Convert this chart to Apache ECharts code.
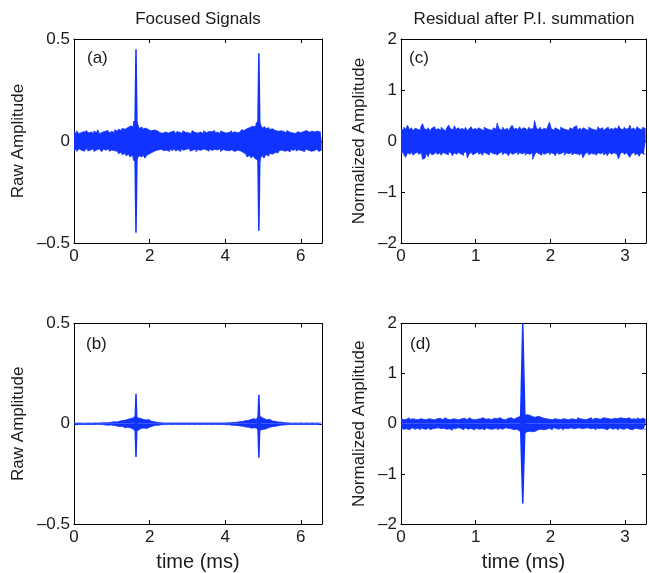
<!DOCTYPE html>
<html><head><meta charset="utf-8">
<script src="https://cdn.jsdelivr.net/npm/echarts@6/dist/echarts.min.js"></script>
<style>html,body{margin:0;padding:0;background:#fff}#c{width:649px;height:573px}</style>
</head><body><div id="c"></div>
<script>
// ---- data (envelopes of the dense signals) ----
const aStep = 0.05;   // sample spacing of panel (a),(b) envelopes, ms
const cStep = 0.025;  // sample spacing of panel (c),(d) envelopes, ms
const leftXMax = 6.56;
const rightXMax = 3.28;
const leftXTicks = [0, 2, 4, 6];
const rightXTicks = [0, 1, 2, 3];
const leftYTicks = [-0.5, 0, 0.5];
const rightYTicks = [-2, -1, 0, 1, 2];
const panelTags = ['(a)', '(b)', '(c)', '(d)'];
const colTitles = ['Focused Signals', 'Residual after P.I. summation'];

const aUpper = [0.045,0.038,0.050,0.036,0.042,0.047,0.035,0.052,0.040,0.044,
0.037,0.049,0.041,0.055,0.036,0.043,0.048,0.039,0.051,0.040,
0.046,0.042,0.055,0.048,0.058,0.052,0.062,0.057,0.066,0.060,
0.074,0.070,0.095,0.100,0.088,0.062,0.068,0.058,0.064,0.055,
0.060,0.050,0.054,0.046,0.050,0.041,0.048,0.038,0.044,0.052,
0.039,0.045,0.041,0.049,0.036,0.047,0.042,0.038,0.050,0.043,
0.040,0.046,0.037,0.051,0.042,0.039,0.048,0.044,0.036,0.050,
0.041,0.047,0.038,0.045,0.052,0.040,0.043,0.037,0.049,0.044,
0.039,0.046,0.042,0.050,0.038,0.045,0.041,0.048,0.044,0.055,
0.052,0.060,0.058,0.066,0.072,0.078,0.070,0.090,0.095,0.085,
0.064,0.070,0.060,0.066,0.056,0.060,0.052,0.055,0.048,0.050,
0.042,0.047,0.039,0.051,0.044,0.040,0.049,0.037,0.045,0.050,
0.041,0.046,0.038,0.052,0.043,0.040,0.048,0.044,0.037,0.049,0.042,0.045];
const aLower = [-0.048,-0.040,-0.052,-0.038,-0.045,-0.050,-0.041,-0.036,-0.049,-0.043,
-0.039,-0.051,-0.044,-0.038,-0.047,-0.053,-0.040,-0.045,-0.037,-0.050,
-0.044,-0.048,-0.056,-0.050,-0.062,-0.055,-0.068,-0.060,-0.072,-0.065,
-0.078,-0.070,-0.095,-0.098,-0.085,-0.072,-0.078,-0.066,-0.084,-0.070,
-0.062,-0.055,-0.050,-0.048,-0.044,-0.050,-0.041,-0.047,-0.039,-0.045,
-0.051,-0.040,-0.046,-0.038,-0.049,-0.043,-0.052,-0.039,-0.045,-0.041,
-0.048,-0.037,-0.050,-0.044,-0.040,-0.053,-0.042,-0.046,-0.039,-0.048,
-0.043,-0.050,-0.038,-0.046,-0.041,-0.049,-0.044,-0.037,-0.051,-0.042,
-0.046,-0.040,-0.048,-0.043,-0.039,-0.052,-0.045,-0.050,-0.048,-0.056,
-0.060,-0.064,-0.078,-0.070,-0.082,-0.074,-0.085,-0.092,-0.098,-0.088,
-0.070,-0.084,-0.066,-0.074,-0.060,-0.065,-0.056,-0.052,-0.058,-0.048,
-0.044,-0.050,-0.041,-0.047,-0.053,-0.040,-0.046,-0.038,-0.049,-0.043,
-0.047,-0.041,-0.052,-0.039,-0.045,-0.050,-0.042,-0.048,-0.040,-0.046,-0.051,-0.044];
const aSpikeT = [1.64, 4.89];
const aSpikeHi = [0.45, 0.43];
const aSpikeLo = [-0.45, -0.44];

const bUpper = [0.004,0.003,0.004,0.004,0.003,0.004,0.003,0.004,0.004,0.003,
0.004,0.003,0.004,0.004,0.004,0.005,0.005,0.006,0.005,0.007,
0.008,0.010,0.009,0.013,0.012,0.016,0.019,0.017,0.022,0.020,
0.026,0.030,0.036,0.040,0.030,0.027,0.022,0.025,0.019,0.021,
0.015,0.013,0.010,0.009,0.007,0.006,0.005,0.004,0.004,0.003,
0.004,0.004,0.003,0.004,0.004,0.003,0.004,0.004,0.003,0.004,
0.004,0.003,0.004,0.004,0.003,0.004,0.004,0.003,0.004,0.004,
0.003,0.004,0.004,0.003,0.004,0.004,0.003,0.004,0.004,0.005,
0.004,0.005,0.006,0.005,0.007,0.008,0.007,0.010,0.012,0.011,
0.015,0.017,0.016,0.021,0.019,0.025,0.023,0.029,0.038,0.034,
0.026,0.024,0.020,0.022,0.017,0.014,0.012,0.011,0.009,0.008,
0.007,0.006,0.005,0.004,0.004,0.003,0.004,0.004,0.003,0.004,
0.004,0.003,0.004,0.004,0.003,0.004,0.004,0.003,0.004,0.004,0.003,0.004];
const bLower = [-0.004,-0.004,-0.003,-0.004,-0.004,-0.003,-0.004,-0.004,-0.003,-0.004,
-0.004,-0.004,-0.003,-0.004,-0.005,-0.004,-0.006,-0.005,-0.007,-0.006,
-0.009,-0.008,-0.011,-0.010,-0.014,-0.013,-0.017,-0.020,-0.018,-0.023,
-0.021,-0.028,-0.034,-0.038,-0.032,-0.024,-0.028,-0.021,-0.024,-0.018,
-0.017,-0.012,-0.011,-0.008,-0.008,-0.006,-0.005,-0.004,-0.004,-0.004,
-0.003,-0.004,-0.004,-0.003,-0.004,-0.004,-0.003,-0.004,-0.004,-0.003,
-0.004,-0.004,-0.003,-0.004,-0.004,-0.003,-0.004,-0.004,-0.003,-0.004,
-0.004,-0.003,-0.004,-0.004,-0.003,-0.004,-0.004,-0.004,-0.005,-0.004,
-0.005,-0.006,-0.005,-0.007,-0.006,-0.008,-0.009,-0.008,-0.011,-0.013,
-0.012,-0.016,-0.018,-0.017,-0.022,-0.020,-0.026,-0.024,-0.036,-0.030,
-0.028,-0.021,-0.024,-0.018,-0.019,-0.015,-0.013,-0.010,-0.010,-0.007,
-0.008,-0.006,-0.005,-0.004,-0.004,-0.004,-0.003,-0.004,-0.004,-0.003,
-0.004,-0.004,-0.003,-0.004,-0.004,-0.003,-0.004,-0.004,-0.003,-0.004,-0.004,-0.003];
const bSpikeT = [1.64, 4.89];
const bSpikeHi = [0.15, 0.145];
const bSpikeLo = [-0.166, -0.17];

const cUpper = [0.24,0.21,0.27,0.23,0.31,0.22,0.26,0.20,0.25,0.23,
0.21,0.27,0.34,0.24,0.22,0.26,0.20,0.25,0.28,0.22,
0.24,0.21,0.27,0.23,0.20,0.26,0.31,0.24,0.22,0.30,
0.23,0.26,0.21,0.25,0.22,0.27,0.20,0.24,0.28,0.22,
0.25,0.21,0.26,0.23,0.20,0.27,0.24,0.22,0.25,0.21,
0.26,0.23,0.35,0.24,0.21,0.27,0.22,0.25,0.20,0.26,
0.31,0.23,0.25,0.21,0.28,0.22,0.26,0.24,0.20,0.27,
0.23,0.25,0.40,0.26,0.22,0.27,0.21,0.25,0.23,0.28,
0.37,0.24,0.21,0.26,0.23,0.20,0.27,0.24,0.22,0.25,
0.21,0.26,0.23,0.27,0.30,0.22,0.25,0.21,0.26,0.23,
0.20,0.27,0.24,0.22,0.25,0.21,0.28,0.23,0.26,0.20,
0.24,0.27,0.22,0.25,0.21,0.26,0.23,0.30,0.24,0.22,
0.27,0.23,0.25,0.31,0.22,0.26,0.21,0.28,0.24,0.22,0.27,0.24];
const cLower = [-0.25,-0.22,-0.27,-0.32,-0.23,-0.26,-0.21,-0.28,-0.24,-0.22,
-0.26,-0.23,-0.36,-0.33,-0.24,-0.31,-0.22,-0.27,-0.25,-0.21,
-0.26,-0.23,-0.28,-0.22,-0.25,-0.27,-0.21,-0.24,-0.29,-0.23,
-0.26,-0.22,-0.25,-0.28,-0.23,-0.21,-0.33,-0.26,-0.22,-0.27,
-0.24,-0.21,-0.26,-0.23,-0.28,-0.22,-0.25,-0.27,-0.21,-0.24,
-0.26,-0.22,-0.28,-0.24,-0.21,-0.27,-0.23,-0.25,-0.29,-0.22,
-0.26,-0.24,-0.21,-0.27,-0.23,-0.25,-0.22,-0.28,-0.24,-0.26,
-0.23,-0.36,-0.27,-0.22,-0.25,-0.28,-0.21,-0.26,-0.24,-0.22,
-0.27,-0.23,-0.25,-0.29,-0.22,-0.26,-0.24,-0.21,-0.28,-0.23,
-0.25,-0.22,-0.27,-0.24,-0.26,-0.21,-0.28,-0.23,-0.33,-0.25,
-0.22,-0.27,-0.24,-0.26,-0.21,-0.28,-0.23,-0.25,-0.22,-0.27,
-0.24,-0.29,-0.22,-0.26,-0.23,-0.25,-0.28,-0.35,-0.24,-0.22,
-0.26,-0.23,-0.27,-0.32,-0.25,-0.22,-0.28,-0.24,-0.30,-0.23,-0.26,-0.25];

const dUpper = [0.10,0.08,0.11,0.09,0.12,0.08,0.10,0.09,0.11,0.08,
0.10,0.12,0.09,0.08,0.11,0.10,0.09,0.12,0.08,0.10,
0.09,0.11,0.08,0.10,0.12,0.09,0.08,0.11,0.10,0.09,
0.12,0.08,0.10,0.09,0.11,0.08,0.10,0.12,0.09,0.08,
0.11,0.09,0.10,0.08,0.12,0.09,0.11,0.10,0.08,0.09,
0.11,0.10,0.08,0.12,0.09,0.10,0.08,0.11,0.10,0.12,
0.09,0.11,0.12,0.14,0.16,0.20,0.17,0.18,0.15,0.17,
0.14,0.16,0.13,0.15,0.12,0.13,0.11,0.12,0.10,0.09,
0.11,0.08,0.10,0.12,0.09,0.08,0.11,0.10,0.09,0.12,
0.08,0.10,0.11,0.09,0.08,0.12,0.10,0.09,0.11,0.08,
0.10,0.09,0.12,0.08,0.11,0.10,0.13,0.09,0.12,0.14,
0.11,0.10,0.12,0.09,0.11,0.08,0.10,0.12,0.09,0.11,
0.10,0.08,0.12,0.09,0.11,0.10,0.08,0.12,0.09,0.11,0.10,0.09];
const dLower = [-0.09,-0.11,-0.08,-0.10,-0.12,-0.09,-0.08,-0.11,-0.10,-0.09,
-0.12,-0.08,-0.10,-0.11,-0.09,-0.08,-0.12,-0.10,-0.09,-0.11,
-0.08,-0.10,-0.12,-0.09,-0.11,-0.08,-0.10,-0.13,-0.09,-0.10,
-0.08,-0.11,-0.09,-0.12,-0.10,-0.08,-0.11,-0.09,-0.10,-0.12,
-0.09,-0.08,-0.11,-0.10,-0.09,-0.12,-0.08,-0.10,-0.11,-0.09,
-0.10,-0.08,-0.12,-0.09,-0.11,-0.10,-0.08,-0.09,-0.11,-0.10,
-0.12,-0.10,-0.11,-0.14,-0.17,-0.20,-0.19,-0.16,-0.18,-0.15,
-0.16,-0.13,-0.15,-0.12,-0.14,-0.11,-0.12,-0.10,-0.11,-0.09,
-0.10,-0.12,-0.08,-0.09,-0.11,-0.10,-0.08,-0.12,-0.09,-0.10,
-0.11,-0.08,-0.10,-0.12,-0.09,-0.08,-0.11,-0.10,-0.09,-0.12,
-0.08,-0.10,-0.11,-0.09,-0.12,-0.08,-0.10,-0.09,-0.11,-0.10,
-0.12,-0.09,-0.08,-0.11,-0.10,-0.09,-0.12,-0.08,-0.10,-0.11,
-0.09,-0.08,-0.11,-0.10,-0.12,-0.09,-0.08,-0.10,-0.11,-0.09,-0.10,-0.12];
const dSpikeT = [1.63];
const dSpikeHi = [2.0];
const dSpikeLo = [-1.59];

// ---- layout / style ----
const BLUE = '#1133ff';
const FONT = 'Liberation Sans, Arial, Helvetica, sans-serif';
const TXT = '#1a1a1a';
const grids = [
  {left: 74, top: 39, width: 248, height: 204},   // a
  {left: 74, top: 323.5, width: 248, height: 205}, // b
  {left: 401, top: 39, width: 246, height: 204},  // c
  {left: 401, top: 323.5, width: 246, height: 205} // d
];
const dash = v => (v < 0 ? '\u2013' + Math.abs(v) : String(v));

function axesFor(g, xmax, xticks, ymin, ymax, yint, yticks, yname, ygap, showXName) {
  const xs = [], ys = [];
  const baseLine = {show: true, onZero: false, lineStyle: {color: '#000', width: 1}};
  const tick = {show: true, inside: true, length: 4, lineStyle: {color: '#000'}};
  xs.push({type: 'value', gridIndex: g, position: 'bottom', min: 0, max: xmax, interval: xticks[1] - xticks[0],
    axisLine: baseLine, axisTick: tick, splitLine: {show: false},
    axisLabel: {color: TXT, fontSize: 17, fontFamily: FONT, margin: 5,
      formatter: v => (xticks.indexOf(v) >= 0 ? String(v) : '')},
    name: showXName ? 'time (ms)' : '', nameLocation: 'middle', nameGap: 28,
    nameTextStyle: {color: TXT, fontSize: 20, fontFamily: FONT}});
  xs.push({type: 'value', gridIndex: g, position: 'top', min: 0, max: xmax, interval: xticks[1] - xticks[0],
    axisLine: baseLine, axisTick: tick, splitLine: {show: false}, axisLabel: {show: false}});
  ys.push({type: 'value', gridIndex: g, position: 'left', min: ymin, max: ymax, interval: yint,
    axisLine: baseLine, axisTick: tick, splitLine: {show: false},
    axisLabel: {color: TXT, fontSize: 17, fontFamily: FONT, margin: 4,
      formatter: v => (yticks.indexOf(v) >= 0 ? dash(v) : '')},
    name: yname, nameLocation: 'middle', nameGap: ygap,
    nameTextStyle: {color: TXT, fontSize: 17, fontFamily: FONT}});
  ys.push({type: 'value', gridIndex: g, position: 'right', min: ymin, max: ymax, interval: yint,
    axisLine: baseLine, axisTick: tick, splitLine: {show: false}, axisLabel: {show: false}});
  return {xs, ys};
}

const xAxes = [], yAxes = [];
[
  axesFor(0, leftXMax, leftXTicks, -0.5, 0.5, 0.5, leftYTicks, 'Raw Amplitude', 47, false),
  axesFor(1, leftXMax, leftXTicks, -0.5, 0.5, 0.5, leftYTicks, 'Raw Amplitude', 47, true),
  axesFor(2, rightXMax, rightXTicks, -2, 2, 1, rightYTicks, 'Normalized Amplitude', 33, false),
  axesFor(3, rightXMax, rightXTicks, -2, 2, 1, rightYTicks, 'Normalized Amplitude', 33, true)
].forEach(o => { xAxes.push(...o.xs); yAxes.push(...o.ys); });

const series = [];
function envelope(g, step, upper, lower) {
  [upper, lower].forEach(arr => {
    series.push({type: 'line', xAxisIndex: 2 * g, yAxisIndex: 2 * g, symbol: 'none', silent: true,
      step: 'middle', animation: false, lineStyle: {color: BLUE, width: 0.8},
      areaStyle: {color: BLUE, opacity: 1, origin: 0},
      data: arr.map((v, i) => [i * step, v])});
  });
}
// each spike drawn as a thin filled wedge (base half-width halfW, in ms) plus its stroke
function spikes(g, ts, hi, lo, halfW) {
  ts.forEach((t, k) => {
    [hi[k], lo[k]].forEach(peak => {
      series.push({type: 'line', xAxisIndex: 2 * g, yAxisIndex: 2 * g, symbol: 'none', silent: true, animation: false,
        lineStyle: {color: BLUE, width: 1.5}, areaStyle: {color: BLUE, opacity: 1, origin: 0},
        data: [[t - halfW, 0], [t, peak], [t + halfW, 0]]});
    });
  });
}
envelope(0, aStep, aUpper, aLower);
spikes(0, aSpikeT, aSpikeHi, aSpikeLo, 0.03);
envelope(1, aStep, bUpper, bLower);
spikes(1, bSpikeT, bSpikeHi, bSpikeLo, 0.025);
envelope(2, cStep, cUpper, cLower);
envelope(3, cStep, dUpper, dLower);
spikes(3, dSpikeT, dSpikeHi, dSpikeLo, 0.03);

const tagPos = [[87, 50], [86, 336], [409, 50], [410, 336]];
const titles = [
  {text: colTitles[0], left: 198, top: 11, textAlign: 'center', padding: 0,
   textStyle: {color: TXT, fontSize: 17, fontWeight: 'normal', fontFamily: FONT}},
  {text: colTitles[1], left: 524, top: 11, textAlign: 'center', padding: 0,
   textStyle: {color: TXT, fontSize: 17, fontWeight: 'normal', fontFamily: FONT}}
];
panelTags.forEach((s, k) => titles.push({text: s, left: tagPos[k][0], top: tagPos[k][1], padding: 0,
  textStyle: {color: TXT, fontSize: 17, fontWeight: 'normal', fontFamily: FONT}}));

const chart = echarts.init(document.getElementById('c'), null, {renderer: 'canvas'});
chart.setOption({
  animation: false,
  backgroundColor: '#fff',
  title: titles,
  grid: grids.map(g => Object.assign({containLabel: false}, g)),
  xAxis: xAxes,
  yAxis: yAxes,
  series: series
});
</script></body></html>
